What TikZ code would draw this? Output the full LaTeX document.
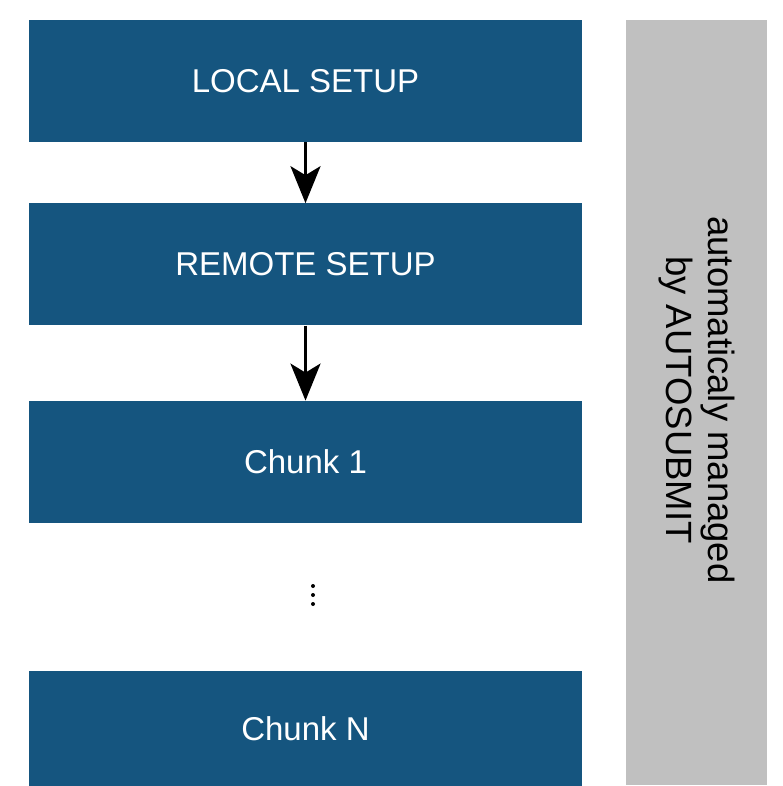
\documentclass[tikz,border=0pt]{standalone}
\usepackage{fontspec}
\setmainfont{Liberation Sans}
\usetikzlibrary{positioning,arrows.meta}
\definecolor{stepblue}{HTML}{15557F}
\definecolor{bargray}{HTML}{C0C0C0}
\tikzset{
  stagebox/.style={fill=stepblue, text=white, minimum width=553pt, minimum height=122pt,
    inner sep=0pt, font=\fontsize{33}{40}\selectfont},
  flowarrow/.style={line width=3pt, -{Stealth[length=37pt,width=30pt,inset=9pt]}},
}
\begin{document}
\begin{tikzpicture}[x=1pt,y=-1pt]
	\useasboundingbox (0,0) rectangle (783,786);
	
	\node[stagebox] (local) at (305.5,81) {LOCAL SETUP};
	\node[stagebox, below=61pt of local] (remote) {REMOTE SETUP};
	\node[stagebox, below=75pt of remote] (chunkone) {Chunk 1};
	\node[stagebox, minimum height=115pt, below=148pt of chunkone] (chunkn) {Chunk N};
	
	\draw[flowarrow] (local) -- (remote);
	\draw[flowarrow] (remote) -- (chunkone);
	
	\fill (313,586) circle (2pt);
	\fill (313,595) circle (2pt);
	\fill (313,604) circle (2pt);
	
	\fill[bargray] (626,20) rectangle (767,785);
	\node[rotate=-90, align=center, font=\fontsize{36.5}{42}\selectfont] (managed) at (696.5,400)
		{automaticaly managed\\by AUTOSUBMIT};
\end{tikzpicture}
\end{document}
